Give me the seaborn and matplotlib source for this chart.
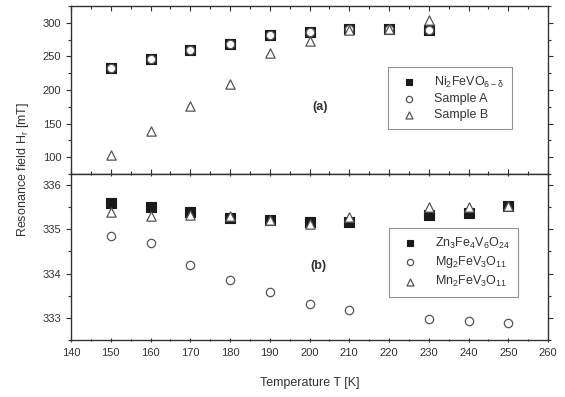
import numpy as np
import pandas as pd
import matplotlib
matplotlib.use("Agg")
import matplotlib.pyplot as plt
import seaborn as sns
from matplotlib.ticker import MultipleLocator

sns.set_style("ticks")
plt.rcParams['font.family'] = ['Liberation Sans', 'DejaVu Sans']
plt.rcParams['mathtext.default'] = 'regular'

# Panel (a)
T_a = [150, 160, 170, 180, 190, 200, 210, 220, 230]
ni2fevo = [232.5, 246.5, 259, 268.5, 281.5, 287, 290.5, 291, 289]
sample_a = [232.5, 246.5, 259, 268.5, 281.5, 287, 290.5, 291, 289]
sample_b = [104, 138.5, 176, 208.5, 255, 273, 290, 291, 304]

# Panel (b)
T_b = [150, 160, 170, 180, 190, 200, 210, 230, 240, 250]
zn3fe4v6o24 = [335.60, 335.51, 335.40, 335.26, 335.20, 335.17, 335.17, 335.32, 335.38, 335.52]
mg2fev3o11 = [334.86, 334.68, 334.19, 333.86, 333.58, 333.31, 333.18, 332.97, 332.92, 332.88]
mn2fev3o11 = [335.40, 335.31, 335.32, 335.31, 335.20, 335.13, 335.28, 335.50, 335.51, 335.53]

labels_a = ["Ni$_2$FeVO$_{6-\\delta}$", "Sample A", "Sample B"]
labels_b = ["Zn$_3$Fe$_4$V$_6$O$_{24}$", "Mg$_2$FeV$_3$O$_{11}$", "Mn$_2$FeV$_3$O$_{11}$"]

df_a = pd.DataFrame({"T": T_a, labels_a[0]: ni2fevo, labels_a[1]: sample_a, labels_a[2]: sample_b})
df_b = pd.DataFrame({"T": T_b, labels_b[0]: zn3fe4v6o24, labels_b[1]: mg2fev3o11, labels_b[2]: mn2fev3o11})

W, H = 565, 397
fig = plt.figure(figsize=(W / 100, H / 100), dpi=100)
left, right = 71 / W, 548 / W
top, mid, bot = 1 - 6 / H, 1 - 174 / H, 1 - 340 / H
ax1 = fig.add_axes([left, mid, right - left, top - mid])
ax2 = fig.add_axes([left, bot, right - left, mid - bot], sharex=ax1)

edge = "#555555"
styles = [
    dict(marker="s", s=42, color="#1a1a1a", edgecolor="#1a1a1a", linewidth=0.8),
    dict(marker="o", s=36, facecolor="white", edgecolor=edge, linewidth=0.9),
    dict(marker="^", s=45, facecolor="white", edgecolor=edge, linewidth=0.9),
]

for ax, df, labels in [(ax1, df_a, labels_a), (ax2, df_b, labels_b)]:
    for lab, st in zip(labels, styles):
        sns.scatterplot(data=df, x="T", y=lab, ax=ax, label=lab, zorder=3, **st)

ax1.set_xlim(140, 260)
ax1.set_ylim(75, 325)
ax2.set_ylim(332.5, 336.25)

ax1.yaxis.set_major_locator(MultipleLocator(50))
ax1.yaxis.set_minor_locator(MultipleLocator(25))
ax2.yaxis.set_major_locator(MultipleLocator(1))
ax2.yaxis.set_minor_locator(MultipleLocator(0.5))
ax2.xaxis.set_major_locator(MultipleLocator(10))
ax2.xaxis.set_minor_locator(MultipleLocator(5))

for ax in (ax1, ax2):
    ax.set_xlabel("")
    ax.set_ylabel("")
    for sp in ax.spines.values():
        sp.set_visible(True)
        sp.set_color("#333333")
        sp.set_linewidth(1.0)
    ax.tick_params(which="both", top=True, right=True, colors="#333333",
                   labelcolor="#333333", labelsize=8, width=0.8)
    ax.tick_params(which="major", length=3.5)
    ax.tick_params(which="minor", length=2)
    ax.tick_params(axis="y", which="both", direction="out")

ax1.tick_params(axis="x", which="both", direction="in", labelbottom=False)
ax2.tick_params(axis="x", which="both", direction="inout", bottom=True, top=True)
ax2.tick_params(axis="x", which="major", pad=4)

ax2.set_xlabel("Temperature T [K]", fontsize=9, color="#333333", labelpad=14)
fig.text(23 / W, 0.5 * (top + bot) + 0.01, "Resonance field H$_r$ [mT]", rotation=90,
         ha="center", va="center", fontsize=9, color="#333333")

ax1.text((320 - 71) / 477, 1 - (107 - 6) / 168, "(a)", transform=ax1.transAxes,
         fontsize=9, fontweight="bold", ha="center", va="center", color="#333333")
ax2.text((318 - 71) / 477, 1 - (266 - 174) / 166, "(b)", transform=ax2.transAxes,
         fontsize=9, fontweight="bold", ha="center", va="center", color="#333333")

for ax, anchor in [(ax1, (0.665, 0.637)), (ax2, (0.667, 0.675))]:
    leg = ax.legend(loc="upper left", bbox_to_anchor=anchor, frameon=True, fancybox=False,
                    fontsize=9, handletextpad=0.9, borderpad=0.6, labelspacing=0.3,
                    handlelength=2.2, markerscale=0.75, borderaxespad=0)
    leg.get_frame().set_edgecolor("#777777")
    leg.get_frame().set_linewidth(0.8)
    for t in leg.get_texts():
        t.set_color("#333333")

fig.savefig("out.png", dpi=100)
